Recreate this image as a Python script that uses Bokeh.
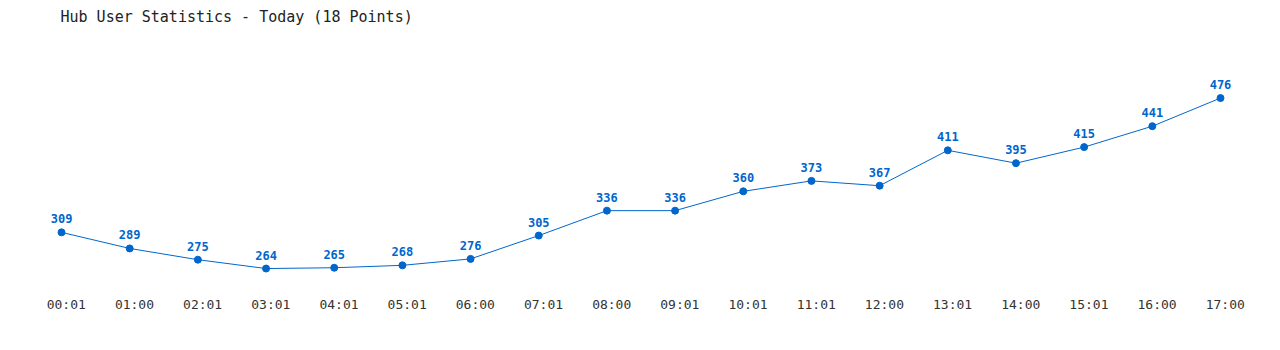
from bokeh.plotting import figure
from bokeh.models import ColumnDataSource, Range1d, FixedTicker, LinearAxis
from bokeh.embed import file_html
from bokeh.resources import INLINE

times = ["00:01", "01:00", "02:01", "03:01", "04:01", "05:01", "06:00", "07:01", "08:00",
         "09:01", "10:01", "11:01", "12:00", "13:01", "14:00", "15:01", "16:00", "17:00"]
users = [309, 289, 275, 264, 265, 268, 276, 305, 336, 336, 360, 373, 367, 411, 395, 415, 441, 476]

BLUE = "#0066cc"
FONT = "DejaVu Sans Mono"

xs = list(range(len(times)))
src = ColumnDataSource(dict(x=xs, y=users, lbl=[str(v) for v in users]))

X0, X1 = -0.895, 17.88
p = figure(width=1280, height=350, output_backend="svg", toolbar_location=None,
           x_range=Range1d(X0, X1), y_range=Range1d(236.7, 560),
           min_border_left=0, min_border_right=0, min_border_top=0, min_border_bottom=60,
           title="Hub User Statistics - Today (18 Points)", x_axis_location=None)

p.title.text_font = FONT
p.title.text_font_size = "15px"
p.title.text_font_style = "normal"
p.title.text_color = "#222222"
p.title.offset = 60

p.line("x", "y", source=src, line_color=BLUE, line_width=1)
p.scatter("x", "y", source=src, size=7, fill_color=BLUE, line_color=BLUE)
p.text("x", "y", text="lbl", source=src, text_align="center", text_baseline="bottom",
       y_offset=-9, text_font_size="12px", text_font_style="bold", text_color=BLUE,
       text_font={"value": FONT})

# tick labels sit slightly right of their points, as in the reference
p.extra_x_ranges = {"lbl": Range1d(X0 - 0.07, X1 - 0.07)}
ax = LinearAxis(x_range_name="lbl", ticker=FixedTicker(ticks=xs),
                major_label_overrides={i: t for i, t in enumerate(times)})
ax.axis_line_color = None
ax.major_tick_line_color = None
ax.minor_tick_line_color = None
ax.major_label_text_font = FONT
ax.major_label_text_font_size = "13px"
ax.major_label_text_color = "#333333"
ax.major_label_standoff = 0
p.add_layout(ax, "below")

p.yaxis.visible = False
p.grid.visible = False
p.outline_line_color = None

open("out.html", "w").write(file_html(p, INLINE))
